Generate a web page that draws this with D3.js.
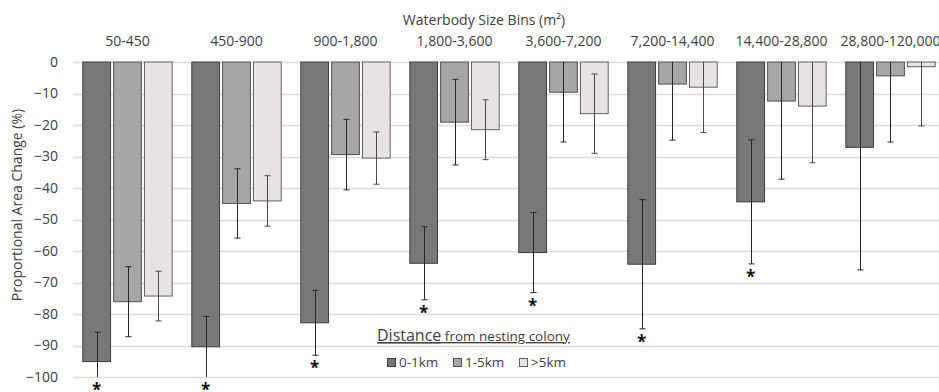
<!DOCTYPE html>
<html>
<head>
<meta charset="utf-8">
<script src="https://cdn.jsdelivr.net/npm/d3@7"></script>
<style>
  body { margin: 0; background: #fff; }
  text { font-family: "Open Sans", sans-serif; fill: #404040; }
</style>
</head>
<body>
<script>
// waterbody size bins (m2)
const bins = ['50-450', '450-900', '900-1,800', '1,800-3,600', '3,600-7,200', '7,200-14,400', '14,400-28,800', '28,800-120,000'];
const seriesNames = ['0-1km', '1-5km', '>5km'];

// mean proportional area change (%) per distance class
const near = [-95.1, -90.4, -82.8, -63.9, -60.5, -64.2, -44.4, -27.1];
const mid = [-76.1, -44.9, -29.4, -19.1, -9.6, -7.0, -12.4, -4.4];
const far = [-74.3, -44.1, -30.5, -21.5, -16.4, -8.0, -14.0, -1.5];

// error bar half-widths
const nearErr = [9.3, 9.6, 10.3, 11.6, 12.7, 20.5, 19.7, 38.9];
const midErr = [11.1, 11.0, 11.2, 13.6, 15.8, 17.8, 24.8, 21.0];
const farErr = [7.9, 8.0, 8.3, 9.5, 12.6, 14.4, 18.0, 18.8];

// significance marks under the 0-1km bars
const signif = [true, true, true, true, true, true, true, false];

const yTicks = [0, -10, -20, -30, -40, -50, -60, -70, -80, -90, -100];

const fills = ['#787878', '#a6a6a6', '#e7e3e5'];
const strokes = ['#3c3c3c', '#505050', '#606060'];

const W = 939, H = 392;
const svg = d3.select('body').append('svg')
  .attr('width', W)
  .attr('height', H);

const x = d3.scaleBand()
  .domain(bins)
  .range([73, 73 + 8 * 109])
  .paddingInner(0.18)
  .paddingOuter(0.09);

const xs = d3.scaleBand()
  .domain(seriesNames)
  .range([0, x.bandwidth()])
  .paddingInner(0.1);

const y = d3.scaleLinear()
  .domain([-100, 0])
  .range([377, 62]);

// gridlines
svg.append('g')
  .selectAll('line')
  .data(yTicks)
  .enter()
  .append('line')
  .attr('x1', 73)
  .attr('x2', W)
  .attr('y1', d => Math.round(y(d)) + 0.5)
  .attr('y2', d => Math.round(y(d)) + 0.5)
  .attr('stroke', '#dcdcdc')
  .attr('stroke-width', 1.5);

// y axis
const yAxis = svg.append('g')
  .attr('transform', 'translate(73,0)')
  .call(d3.axisLeft(y).tickValues(yTicks).tickSize(0).tickPadding(15));
yAxis.select('.domain').remove();
yAxis.selectAll('text')
  .style('font-family', '"Open Sans", sans-serif')
  .style('font-size', '14px')
  .attr('fill', '#404040');

// top category axis
const xAxis = svg.append('g')
  .attr('transform', 'translate(0,46)')
  .call(d3.axisTop(x).tickSize(0).tickPadding(0));
xAxis.select('.domain').remove();
xAxis.selectAll('text')
  .style('font-family', '"Open Sans", sans-serif')
  .style('font-size', '14px')
  .attr('fill', '#404040');

svg.append('text')
  .attr('x', 484)
  .attr('y', 25)
  .attr('text-anchor', 'middle')
  .style('font-size', '14px')
  .text('Waterbody Size Bins (m²)');

svg.append('text')
  .attr('transform', 'translate(22,205) rotate(-90)')
  .attr('text-anchor', 'middle')
  .style('font-size', '14px')
  .text('Proportional Area Change (%)');

// bars
const series = [
  { name: seriesNames[0], values: near, errs: nearErr },
  { name: seriesNames[1], values: mid, errs: midErr },
  { name: seriesNames[2], values: far, errs: farErr }
];

series.forEach((s, si) => {
  const g = svg.append('g');
  g.selectAll('rect')
    .data(bins)
    .enter()
    .append('rect')
    .attr('x', (d) => x(d) + xs(s.name))
    .attr('y', y(0))
    .attr('width', xs.bandwidth())
    .attr('height', (d, i) => y(s.values[i]) - y(0))
    .attr('fill', fills[si])
    .attr('stroke', strokes[si])
    .attr('stroke-width', 1);
});

// error bars, clipped to the axis range like the original
series.forEach((s, si) => {
  const g = svg.append('g').attr('stroke', si === 2 ? '#4a4a4a' : '#262626');
  bins.forEach((b, i) => {
    const cx = Math.round(x(b) + xs(s.name) + xs.bandwidth() / 2) + 0.5;
    const hi = Math.min(0, s.values[i] + s.errs[i]);
    const lo = Math.max(-100, s.values[i] - s.errs[i]);
    g.append('line')
      .attr('x1', cx).attr('x2', cx)
      .attr('y1', y(hi)).attr('y2', y(lo));
    if (hi < 0) {
      g.append('line')
        .attr('x1', cx - 3).attr('x2', cx + 3)
        .attr('y1', y(hi)).attr('y2', y(hi));
    }
    if (lo > -100) {
      g.append('line')
        .attr('x1', cx - 3).attr('x2', cx + 3)
        .attr('y1', y(lo)).attr('y2', y(lo));
    }
  });
});

// asterisks
svg.append('g')
  .selectAll('text')
  .data(bins.filter((b, i) => signif[i]))
  .enter()
  .append('text')
  .attr('x', (d) => x(d) + xs(seriesNames[0]) + xs.bandwidth() / 2)
  .attr('y', (d) => {
    const i = bins.indexOf(d);
    return y(Math.max(-100, near[i] - nearErr[i])) + 19;
  })
  .attr('text-anchor', 'middle')
  .style('font-size', '17px')
  .style('font-weight', 'bold')
  .style('fill', '#111')
  .text('*');

// legend
const legend = svg.append('g');
const title = legend.append('text')
  .attr('x', 377)
  .attr('y', 341)
  .style('text-decoration', 'underline');
title.append('tspan').style('font-size', '16px').text('Distance');
title.append('tspan').style('font-size', '13.5px').text(' from nesting colony');

const legendX = [387, 453, 519];
seriesNames.forEach((n, i) => {
  legend.append('rect')
    .attr('x', legendX[i] + 0.5)
    .attr('y', 358.5)
    .attr('width', 8)
    .attr('height', 8)
    .attr('fill', fills[i])
    .attr('stroke', strokes[i]);
  legend.append('text')
    .attr('x', legendX[i] + 12)
    .attr('y', 367)
    .style('font-size', '13.5px')
    .text(n);
});
</script>
</body>
</html>
